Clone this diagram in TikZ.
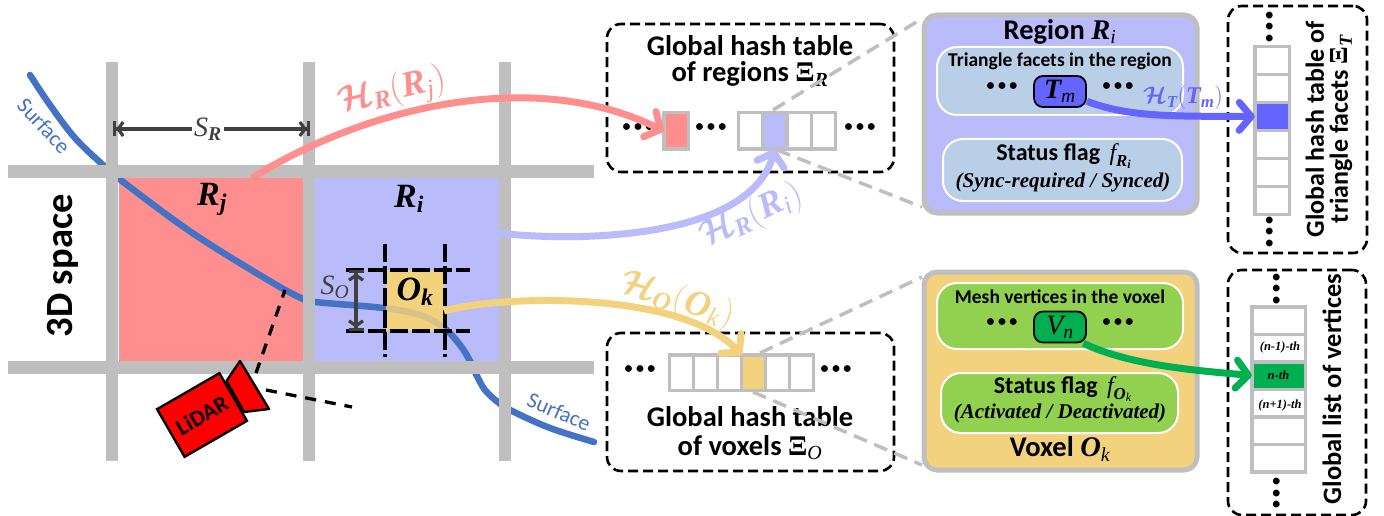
\documentclass[tikz,border=0pt]{standalone}
\usepackage{fix-cm}
\usepackage{amsmath}
\usepackage{fontspec}
\setmainfont{Carlito}
\newfontfamily\timesf{Liberation Serif}
\usetikzlibrary{arrows.meta}

\definecolor{gridgray}{HTML}{BFBFBF}
\definecolor{regionred}{HTML}{FF8F8F}
\definecolor{regionblue}{HTML}{B9BBFB}
\definecolor{voxelyellow}{HTML}{F3D27D}
\definecolor{surfaceblue}{HTML}{4472C4}
\definecolor{darktext}{HTML}{404040}
\definecolor{facetblue}{HTML}{B9CFE8}
\definecolor{facetdeep}{HTML}{6464FF}
\definecolor{vertexgreen}{HTML}{92D050}
\definecolor{vertexdeep}{HTML}{00B050}

% Bold italic, plain italic and upright bold serif letters
\newcommand{\bi}[1]{\text{\timesf\bfseries\itshape #1}}
\newcommand{\ii}[1]{\text{\timesf\mdseries\itshape #1}}
\newcommand{\bigxi}{\text{\timesf\bfseries Ξ}}
\newcommand{\hashmark}{\boldsymbol{\mathcal{H}}}
\newcommand{\fsz}[1]{\fontsize{#1}{#1}\selectfont}
\newcommand{\threedots}{•\hspace{3.5pt}•\hspace{3.5pt}•}

\tikzset{
  gridline/.style={draw=gridgray, line width=12.5pt},
  dashbox/.style={draw=black, line width=2.6pt, dash pattern=on 10pt off 5pt, rounded corners=14pt, inner sep=0pt},
  zoomline/.style={draw=gridgray, line width=3.5pt, dash pattern=on 14pt off 8pt},
  voxelline/.style={draw=black, line width=3.3pt, dash pattern=on 18pt off 4pt},
  rayline/.style={draw=black, line width=3.3pt, dash pattern=on 11pt off 9pt},
  cell/.style={draw=gridgray, line width=3.5pt, inner sep=0pt, outer sep=0pt},
  panel/.style={draw=gridgray, line width=5pt, rounded corners=13pt, inner sep=0pt},
  innerpanel/.style={draw=white, line width=2pt, rounded corners=20pt, inner sep=0pt},
  keybox/.style={draw=black, line width=1.8pt, rounded corners=9pt, minimum width=52pt, minimum height=31pt, inner sep=0pt},
  hasharrow/.style={line width=7pt, -{Straight Barb[round,length=12pt,width=28pt]}},
  measure/.style={draw=darktext, line width=3.2pt, {Bar[width=15pt,line width=3.2pt]Straight Barb[length=5pt,width=14pt]}-{Straight Barb[length=5pt,width=14pt]Bar[width=15pt,line width=3.2pt]}},
  title/.style={font=\fsz{28.5}\bfseries, align=center, inner sep=0pt},
  smalltitle/.style={font=\fsz{19.5}\bfseries, inner sep=0pt},
  flagtext/.style={font=\fsz{21}\timesf\bfseries\itshape, inner sep=0pt},
  cornertext/.style={font=\fsz{12.5}\timesf\bfseries\itshape, inner sep=0pt},
  dotrow/.style={font=\fsz{16}\bfseries, inner sep=0pt}
}

\begin{document}
\begin{tikzpicture}[x=1pt,y=-1pt]
  \useasboundingbox (0,0) rectangle (1384,516);

  % The two regions and the voxel
  \node[fill=regionred, minimum width=185pt, minimum height=184pt, inner sep=0pt] (regionj) at (211,269.5) {};
  \node[fill=regionblue, minimum width=185pt, minimum height=184pt, inner sep=0pt] (regioni) at (407,269.5) {};
  \node[fill=voxelyellow, minimum width=58pt, minimum height=61pt, inner sep=0pt] (voxel) at (415,300.5) {};

  % The surface, under the grid
  \draw[surfaceblue, line width=6.5pt, line cap=round] plot[smooth, tension=0.6] coordinates {
    (30,75) (50,105) (75,138) (103,165) (118,178) (191,232) (268,280) (303,299) (315,302) (383,308)
    (420,315) (444,328) (460,345) (470,361) (476,374) (485,390) (499,403) (512,411) (550,428) (594,442)};

  % The voxel again, over the surface
  \node[fill=voxelyellow, fill opacity=0.85, minimum width=58pt, minimum height=61pt, inner sep=0pt] (voxeltop) at (415,300.5) {};

  % The grid of regions
  \foreach \x in {112,309,505} {
    \draw[gridline] (\x,62) -- (\x,461);
  }
  \foreach \y in {171.5,367.5} {
    \draw[gridline] (8,\y) -- (594,\y);
  }

  % The grid of the voxel
  \foreach \x in {385,445} {
    \draw[voxelline] (\x,244) -- (\x,357);
  }
  \foreach \y in {270,331} {
    \draw[voxelline] (346,\y) -- (470,\y);
  }

  % Region and voxel sizes
  \coordinate (srleft) at (113,129);
  \coordinate (srright) at (310,129);
  \coordinate (sotop) at (356,270);
  \coordinate (sobot) at (356,331);
  \draw[measure] (srleft) -- (srright);
  \draw[measure] (sotop) -- (sobot);
  \node[fill=white, inner sep=2pt, text=darktext, font=\fsz{28}] (srlabel) at (208,129) {$\ii{S}_{\bi{R}}$};
  \node[inner sep=0pt, text=darktext, font=\fsz{28}] (solabel) at (335,287) {$\ii{S}_{\ii{O}}$};

  % Labels in the space
  \node[rotate=90, inner sep=0pt, font=\fsz{38.5}\bfseries] (space) at (63,266) {3D space};
  \node[rotate=-47, inner sep=0pt, text=surfaceblue, font=\fsz{22}] (surfacetop) at (44,126) {Surface};
  \node[rotate=-23, inner sep=0pt, text=surfaceblue, font=\fsz{22}] (surfacebot) at (559,412) {Surface};
  \node[inner sep=0pt, font=\fsz{34}] (rjlabel) at (212,199) {$\bi{R}_{\bi{j}}$};
  \node[inner sep=0pt, font=\fsz{34}] (rilabel) at (409,199) {$\bi{R}_{\bi{i}}$};
  \node[inner sep=0pt, font=\fsz{34}] (oklabel) at (415,292) {$\bi{O}_{\bi{k}}$};

  % The LiDAR
  \draw[fill=red, line width=2.4pt, line join=round] (226.5,381) -- (240,361) -- (269,409) -- (244,412) -- cycle;
  \node[draw=black, fill=red, line width=2.4pt, rotate=30, minimum width=72pt, minimum height=55pt, inner sep=0pt, font=\fsz{23}\bfseries] (lidar) at (202,415) {LiDAR};
  \coordinate (rayfromA) at (256,373);
  \coordinate (raytoA) at (285,290);
  \coordinate (rayfromB) at (266,390);
  \coordinate (raytoB) at (352,407);
  \draw[rayline] (rayfromA) -- (raytoA);
  \draw[rayline] (rayfromB) -- (raytoB);

  % Dashed boxes of the global tables
  \node[dashbox, minimum width=287pt, minimum height=148pt] (regionbox) at (750.5,98) {};
  \node[dashbox, minimum width=287pt, minimum height=138pt] (voxelbox) at (750.5,402) {};
  \node[dashbox, minimum width=139pt, minimum height=247pt] (facetbox) at (1297.5,129.5) {};
  \node[dashbox, minimum width=138pt, minimum height=245pt] (vertexbox) at (1297,392.5) {};

  % Hash table of regions
  \node[cell, fill=regionred, minimum width=24.5pt, minimum height=36.5pt] (redcell) at (676,131) {};
  \foreach \i in {0,...,3} {
    \node[cell, minimum width=24.3pt, minimum height=36.5pt] (regcell\i) at (750.5+24.3*\i,131) {};
  }
  \node[cell, fill=regionblue, minimum width=24.3pt, minimum height=36.5pt] (bluecell) at (774.8,131) {};
  \node[dotrow] (regdotsA) at (638,128) {\threedots};
  \node[dotrow] (regdotsB) at (711,128) {\threedots};
  \node[dotrow] (regdotsC) at (860,128) {\threedots};
  \node[title] (regiontitle) at (750,61) {Global hash table\\[-2pt]of regions \bigxi$_{\bi{R}}$};

  % Hash table of voxels
  \foreach \i in {0,...,5} {
    \node[cell, minimum width=24pt, minimum height=35.5pt] (volcell\i) at (681.7+24*\i,372.5) {};
  }
  \node[cell, fill=voxelyellow, minimum width=24pt, minimum height=35.5pt] (yellowcell) at (753.7,372.5) {};
  \node[dotrow] (voldotsA) at (640,370) {\threedots};
  \node[dotrow] (voldotsB) at (836,370) {\threedots};
  \node[title] (voxeltitle) at (750,433) {Global hash table\\[1pt]of voxels \bigxi$_{\ii{O}}$};

  % Zoom lines towards the panels
  \coordinate (regzoomA) at (773,110);
  \coordinate (regzoomB) at (777,150);
  \coordinate (volzoomA) at (760,353);
  \coordinate (volzoomB) at (753,392);
  \coordinate (rpanelA) at (923,18);
  \coordinate (rpanelB) at (922,207);
  \coordinate (vpanelA) at (922,277);
  \coordinate (vpanelB) at (922,465);
  \draw[zoomline] (regzoomA) -- (rpanelA);
  \draw[zoomline] (regzoomB) -- (rpanelB);
  \draw[zoomline] (volzoomA) -- (vpanelA);
  \draw[zoomline] (volzoomB) -- (vpanelB);

  % Panel of region
  \node[panel, fill=regionblue, minimum width=273pt, minimum height=198pt] (rpanel) at (1060.5,114) {};
  \node[title] (rpaneltitle) at (1060,32) {Region $\bi{R}_{\ii{i}}$};
  \node[innerpanel, fill=facetblue, minimum width=246pt, minimum height=68pt] (facetpanel) at (1060,81) {};
  \node[smalltitle] (facettext) at (1060,61) {Triangle facets in the region};
  \node[dotrow] (facetdotsA) at (1002,87) {\threedots};
  \node[dotrow] (facetdotsB) at (1118,87) {\threedots};
  \node[keybox, fill=facetdeep] (tm) at (1060,91.5) {\fsz{28}$\bi{T}_{\ii{m}}$};
  \node[innerpanel, fill=facetblue, minimum width=239pt, minimum height=62pt] (rflagpanel) at (1062.5,170) {};
  \node[title, font=\fsz{24}\bfseries] (rflag) at (1064,156) {Status flag \,$\ii{f}_{\bi{R}_{\bi{i}}}$};
  \node[flagtext] (rflagtext) at (1063,182) {(Sync-required / Synced)};

  % Panel of voxel
  \node[panel, fill=voxelyellow, minimum width=273pt, minimum height=198pt] (vpanel) at (1060.5,371) {};
  \node[innerpanel, fill=vertexgreen, minimum width=246pt, minimum height=66pt] (meshpanel) at (1060,316) {};
  \node[smalltitle] (meshtext) at (1060,297) {Mesh vertices in the voxel};
  \node[dotrow] (meshdotsA) at (1002,323) {\threedots};
  \node[dotrow] (meshdotsB) at (1118,323) {\threedots};
  \node[keybox, fill=vertexdeep] (vn) at (1060,327) {\fsz{28}$\ii{V}_{\ii{n}}$};
  \node[innerpanel, fill=vertexgreen, minimum width=237pt, minimum height=60pt] (oflagpanel) at (1059.5,403) {};
  \node[title, font=\fsz{24}\bfseries] (oflag) at (1063,389) {Status flag \,$\ii{f}_{\bi{O}_{\ii{k}}}$};
  \node[flagtext] (oflagtext) at (1060,413) {(Activated / Deactivated)};
  \node[title] (vpaneltitle) at (1060,449) {Voxel $\bi{O}_{\ii{k}}$};

  % Table of facets
  \foreach \i in {0,...,5} {
    \node[cell, minimum width=34.5pt, minimum height=28pt] (tricell\i) at (1272,60.5+28*\i) {};
  }
  \node[cell, fill=facetdeep, minimum width=34.5pt, minimum height=28pt] (tmcell) at (1272,116.5) {};
  \node[dotrow, rotate=90] (tridotsA) at (1270,27) {\threedots};
  \node[dotrow, rotate=90] (tridotsB) at (1270,232) {\threedots};
  \node[title, rotate=90, font=\fsz{26}\bfseries] (tritext) at (1329,129) {Global hash table of\\[-2pt]triangle facets \bigxi$_{\bi{T}}$};

  % List of vertices
  \foreach \i in {0,...,5} {
    \node[cell, minimum width=53.5pt, minimum height=27.5pt] (vertcell\i) at (1278.5,320.5+27.5*\i) {};
  }
  \node[cell, fill=vertexdeep, minimum width=53.5pt, minimum height=27.5pt, cornertext] (nthcell) at (1278.5,375.5) {n-th};
  \node[cornertext] (prevtext) at (1280,347) {(n-1)-th};
  \node[cornertext] (nexttext) at (1280,405) {(n+1)-th};
  \node[dotrow, rotate=90] (vertdotsA) at (1277,289) {\threedots};
  \node[dotrow, rotate=90] (vertdotsB) at (1277,493) {\threedots};
  \node[title, rotate=90, font=\fsz{26.5}\bfseries] (verttext) at (1332,389) {Global list of vertices};

  % Hash arrows
  \coordinate (hashj) at (252,178);
  \coordinate (hashi) at (470,228);
  \coordinate (hashk) at (444,311);
  \draw[hasharrow, regionred] (hashj) .. controls (360,110) and (530,65) .. (redcell.west);
  \draw[hasharrow, regionblue] (hashi) .. controls (510,240) and (745,255) .. (bluecell.south);
  \draw[hasharrow, voxelyellow] (hashk) .. controls (500,295) and (680,290) .. (yellowcell.north west);
  \draw[hasharrow, facetdeep] (tm.340) .. controls (1130,118) and (1180,116) .. (tmcell.west);
  \draw[hasharrow, vertexdeep] (vn.325) .. controls (1130,365) and (1190,370) .. (nthcell.west);

  % Hash function names
  \node[rotate=13, inner sep=0pt, text=regionred, font=\fsz{36}] (hashjtext) at (392,92) {$\hashmark_{\bi{R}}(\bi{R}_{\ii{j}})$};
  \node[rotate=25, inner sep=0pt, text=regionblue, font=\fsz{36}] (hashitext) at (751,216) {$\hashmark_{\bi{R}}(\bi{R}_{\ii{i}})$};
  \node[rotate=-17, inner sep=0pt, text=voxelyellow, font=\fsz{36}] (hashktext) at (677,300) {$\hashmark_{\bi{O}}(\bi{O}_{\ii{k}})$};
  \node[inner sep=0pt, text=facetdeep, font=\fsz{24}] (hashmtext) at (1183,98) {$\hashmark_{\bi{T}}(\bi{T}_{\bi{m}})$};
\end{tikzpicture}
\end{document}
